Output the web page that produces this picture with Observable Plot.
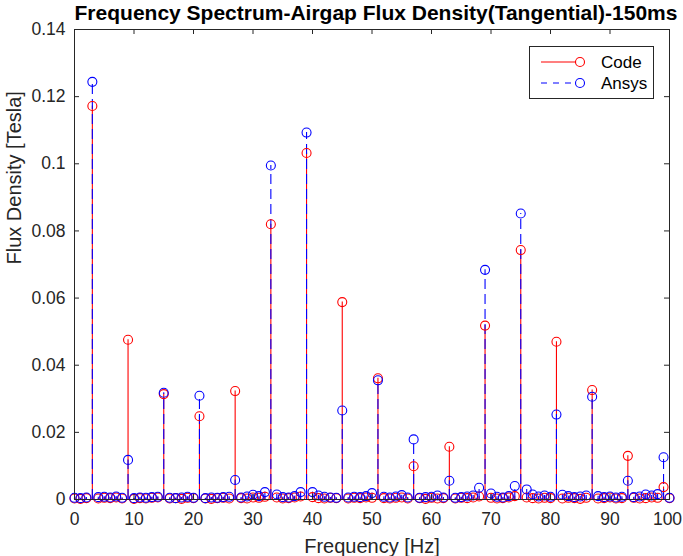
<!DOCTYPE html>
<html>
<head>
<meta charset="utf-8">
<script src="https://cdn.jsdelivr.net/npm/d3@7"></script>
<script src="https://cdn.jsdelivr.net/npm/@observablehq/plot@0.6"></script>
<style>
  html, body { margin: 0; padding: 0; background: #fff; }
  #wrap { position: relative; width: 683px; height: 556px; font-family: "Liberation Sans", Arial, sans-serif; }
  #legend { position: absolute; left: 529px; top: 46px; }
</style>
</head>
<body>
<div id="wrap"></div>
<script>
// ---- data ----
const freqs = d3.range(0, 101); // 0..100 Hz, 1 Hz bins
const codeValues = [
  0.0003,0.0002,0.0004,0.1172,0.0003,0.0005,0.0004,0.0006,0.0003,0.0476,
  0.0002,0.0004,0.0003,0.0005,0.0006,0.0314,0.0003,0.0004,0.0002,0.0005,
  0.0004,0.0248,0.0003,0.0002,0.0004,0.0005,0.0003,0.0323,0.0004,0.0003,
  0.0006,0.0005,0.0008,0.0820,0.0006,0.0003,0.0004,0.0006,0.0009,0.1032,
  0.0007,0.0004,0.0003,0.0005,0.0004,0.0588,0.0003,0.0005,0.0004,0.0006,
  0.0005,0.0361,0.0004,0.0003,0.0005,0.0006,0.0003,0.0099,0.0004,0.0002,
  0.0005,0.0003,0.0004,0.0157,0.0003,0.0005,0.0004,0.0006,0.0009,0.0518,
  0.0005,0.0003,0.0004,0.0006,0.0010,0.0743,0.0006,0.0004,0.0003,0.0005,
  0.0004,0.0470,0.0003,0.0005,0.0004,0.0002,0.0005,0.0326,0.0003,0.0004,
  0.0006,0.0003,0.0004,0.0130,0.0005,0.0003,0.0004,0.0006,0.0005,0.0037,
  0.0004
];
const ansysValues = [
  0.0005,0.0004,0.0006,0.1244,0.0007,0.0008,0.0006,0.0009,0.0005,0.0118,
  0.0004,0.0006,0.0005,0.0007,0.0008,0.0318,0.0005,0.0004,0.0006,0.0008,
  0.0005,0.0309,0.0004,0.0006,0.0005,0.0007,0.0008,0.0058,0.0006,0.0009,
  0.0014,0.0010,0.0022,0.0995,0.0015,0.0007,0.0006,0.0010,0.0022,0.1093,
  0.0022,0.0012,0.0008,0.0006,0.0005,0.0265,0.0006,0.0008,0.0007,0.0010,
  0.0019,0.0355,0.0008,0.0006,0.0009,0.0013,0.0006,0.0179,0.0005,0.0007,
  0.0008,0.0012,0.0006,0.0056,0.0005,0.0007,0.0009,0.0012,0.0035,0.0684,
  0.0018,0.0008,0.0006,0.0010,0.0040,0.0852,0.0030,0.0015,0.0009,0.0012,
  0.0008,0.0253,0.0014,0.0010,0.0007,0.0009,0.0012,0.0306,0.0010,0.0007,
  0.0009,0.0006,0.0008,0.0056,0.0007,0.0009,0.0015,0.0012,0.0016,0.0126,
  0.0005
];
const xTicks = [0, 10, 20, 30, 40, 50, 60, 70, 80, 90, 100];
const yTicks = [0, 0.02, 0.04, 0.06, 0.08, 0.1, 0.12, 0.14];
const seriesNames = ["Code", "Ansys"];
const titleText = "Frequency Spectrum-Airgap Flux Density(Tangential)-150ms";
const xLabel = "Frequency [Hz]";
const yLabel = "Flux Density [Tesla]";

// ---- build ----
const code = freqs.map((f, i) => ({f, v: codeValues[i]}));
const ansys = freqs.map((f, i) => ({f, v: ansysValues[i]}));

const W = 683, H = 556, ML = 74, MR = 14, MT = 29, MB = 57;
const PW = W - ML - MR, PH = H - MT - MB, TK = 5;
const axisColor = "#262626";
const fmt = d => String(+d.toFixed(2));
const lastX = xTicks[xTicks.length - 1];

const chart = Plot.plot({
  width: W, height: H,
  marginLeft: ML, marginRight: MR, marginTop: MT, marginBottom: MB,
  style: {fontFamily: "'Liberation Sans', Arial, sans-serif", fontSize: "17px", color: axisColor, background: "#fff", overflow: "visible"},
  x: {domain: [0, 100]},
  y: {domain: [0, 0.14]},
  marks: [
    // stems
    Plot.ruleX(code, {x: "f", y1: 0, y2: "v", stroke: "#ff0000", strokeWidth: 1.1}),
    Plot.ruleX(ansys, {x: "f", y1: 0, y2: "v", stroke: "#0000ff", strokeWidth: 1.1, strokeDasharray: "10,5"}),
    Plot.ruleY([0], {stroke: "#000", strokeWidth: 1}),
    // markers
    Plot.dot(code, {x: "f", y: "v", r: 4.5, stroke: "#ff0000", fill: "none", strokeWidth: 1.1}),
    Plot.dot(ansys, {x: "f", y: "v", r: 4.5, stroke: "#0000ff", fill: "none", strokeWidth: 1.1}),
    // box
    Plot.frame({stroke: axisColor, strokeWidth: 1}),
    // inward ticks
    Plot.tickX(xTicks, {x: d => d, insetTop: PH - TK, stroke: axisColor}),
    Plot.tickX(xTicks, {x: d => d, insetBottom: PH - TK, stroke: axisColor}),
    Plot.tickY(yTicks, {y: d => d, insetRight: PW - TK, stroke: axisColor}),
    Plot.tickY(yTicks, {y: d => d, insetLeft: PW - TK, stroke: axisColor}),
    // tick labels
    Plot.axisX({ticks: xTicks.filter(d => d !== lastX), tickSize: 0, tickPadding: 13, tickFormat: fmt, label: null, fontSize: 17.5, fill: axisColor}),
    Plot.axisX({ticks: [lastX], tickSize: 0, tickPadding: 13, tickFormat: fmt, label: null, fontSize: 17.5, fill: axisColor, dx: -2}),
    Plot.axisY({ticks: yTicks, tickSize: 0, tickPadding: 9, tickFormat: fmt, label: null, fontSize: 17.5, fill: axisColor}),
    // axis titles and title
    Plot.text([xLabel], {text: d => d, frameAnchor: "bottom", lineAnchor: "middle", dy: 47, fontSize: 20, fill: axisColor}),
    Plot.text([yLabel], {text: d => d, frameAnchor: "left", lineAnchor: "middle", dx: -60, rotate: -90, fontSize: 20, fill: axisColor}),
    Plot.text([titleText], {text: d => d, frameAnchor: "top", lineAnchor: "middle", dy: -16, dx: 4, fontSize: 21, fontWeight: "bold", fill: "#000"})
  ]
});
document.getElementById("wrap").appendChild(chart);

// ---- legend ----
const lg = d3.select("#wrap").append("div").attr("id", "legend")
  .append("svg").attr("width", 126).attr("height", 54);
lg.append("rect").attr("x", 0.5).attr("y", 0.5).attr("width", 124).attr("height", 52)
  .attr("fill", "#fff").attr("stroke", axisColor);
const items = [
  {name: seriesNames[0], color: "#ff0000", dash: null, y: 16},
  {name: seriesNames[1], color: "#0000ff", dash: "6,6", y: 37}
];
items.forEach(it => {
  lg.append("line").attr("x1", 12).attr("x2", 47).attr("y1", it.y).attr("y2", it.y)
    .attr("stroke", it.color).attr("stroke-dasharray", it.dash).attr("stroke-width", 1.1);
  lg.append("circle").attr("cx", 51).attr("cy", it.y).attr("r", 4.5)
    .attr("fill", "none").attr("stroke", it.color).attr("stroke-width", 1.1);
  lg.append("text").attr("x", 72).attr("y", it.y).attr("dy", "0.35em")
    .attr("font-size", 17).attr("fill", "#000").text(it.name);
});
</script>
</body>
</html>
